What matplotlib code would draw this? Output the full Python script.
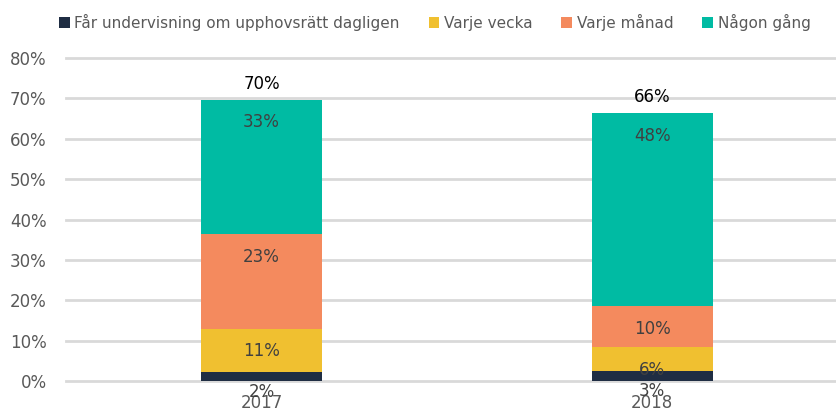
import matplotlib.pyplot as plt
import numpy as np

years = ['2017', '2018']
series = ['Får undervisning om upphovsrätt dagligen', 'Varje vecka',
          'Varje månad', 'Någon gång']
daily = [2.3, 2.5]
weekly = [10.7, 5.9]
monthly = [23.5, 10.2]
sometimes = [33.2, 47.7]
labels = [['2%', '3%'], ['11%', '6%'], ['23%', '10%'], ['33%', '48%']]
totals = ['70%', '66%']
colors = ['#1f2d43', '#f0c030', '#f48a5e', '#00bba3']

plt.rcParams['font.family'] = ['DejaVu Sans']

fig = plt.figure(figsize=(8.36, 4.12), dpi=100)
ax = fig.add_axes([0.079, 0.0752, 0.921, 0.784])

x = np.arange(len(years))
bottom = np.zeros(len(years))
for vals, name, col, labs in zip([daily, weekly, monthly, sometimes], series, colors, labels):
    ax.bar(x, vals, 0.31, bottom=bottom, color=col, label=name, zorder=2)
    tops = bottom + np.array(vals)
    # labels sit just inside the top of each segment
    for xi, top, lab in zip(x, tops, labs):
        ax.annotate(lab, (xi, top), xytext=(0, -10 if top > 5 else -8),
                    textcoords='offset points', ha='center', va='top',
                    fontsize=12, color='#404040', zorder=3)
    bottom = tops

for xi, top, t in zip(x, bottom, totals):
    ax.annotate(t, (xi, top), xytext=(0, 5), textcoords='offset points',
                ha='center', va='bottom', fontsize=12, color='black')

ax.set_xlim(-0.5, 1.47)
ax.set_ylim(0, 80)
ax.set_yticks(range(0, 81, 10))
ax.set_yticklabels(['%d%%' % v for v in range(0, 81, 10)])
ax.set_xticks(x)
ax.set_xticklabels(years)
ax.tick_params(axis='y', length=0, pad=14, labelsize=12, labelcolor='#595959')
ax.tick_params(axis='x', length=0, pad=9, labelsize=12, labelcolor='#595959')
ax.grid(axis='y', color='#d9d9d9', linewidth=2, zorder=0)
for gl in ax.get_ygridlines():
    gl.set_clip_on(False)
ax.set_axisbelow(True)
for s in ax.spines.values():
    s.set_visible(False)

fig.legend(loc='upper center', bbox_to_anchor=(0.52, 1.0), ncol=4, frameon=False,
           fontsize=11, handlelength=0.7, handleheight=0.7, handletextpad=0.3,
           columnspacing=1.9, labelcolor='#595959')

fig.savefig('out.png', dpi=100)
